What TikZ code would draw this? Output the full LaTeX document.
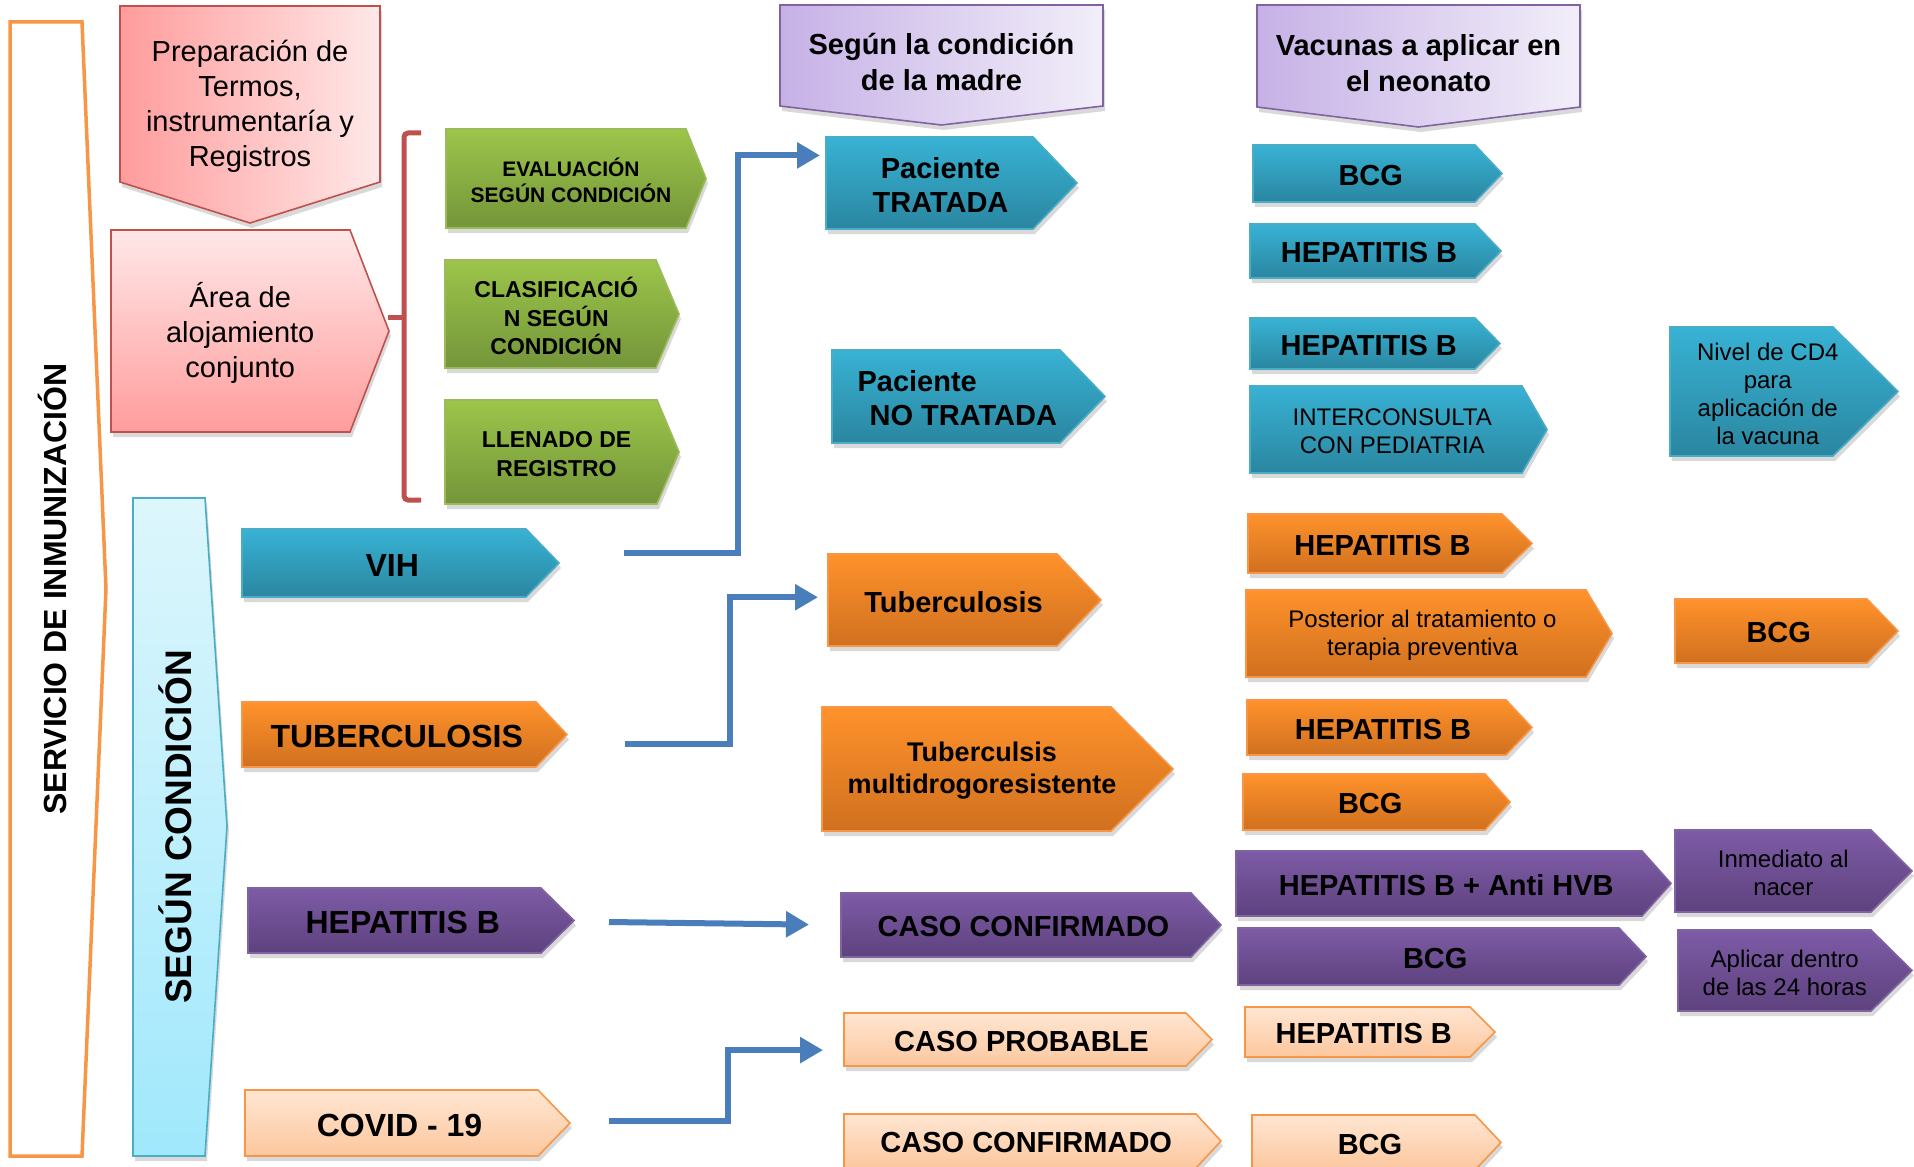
\documentclass[tikz,border=0pt]{standalone}
\usepackage{fontspec}
\setmainfont{Liberation Sans}
\usetikzlibrary{shadows,arrows.meta,calc}
\pgfdeclarelayer{background}
\pgfsetlayers{background,main}
\definecolor{bTop}{HTML}{38B2D4}
\definecolor{bBot}{HTML}{2A86A0}
\definecolor{bLine}{HTML}{4BACC6}
\definecolor{oTop}{HTML}{FF922B}
\definecolor{oBot}{HTML}{D0701F}
\definecolor{oLine}{HTML}{F79646}
\definecolor{pTop}{HTML}{7D5BA6}
\definecolor{pBot}{HTML}{5E427E}
\definecolor{pLine}{HTML}{8064A2}
\definecolor{kTop}{HTML}{FFE6D2}
\definecolor{kBot}{HTML}{FCC79E}
\definecolor{gTop}{HTML}{9CC54A}
\definecolor{gBot}{HTML}{74953A}
\definecolor{gLine}{HTML}{9BBB59}
\definecolor{rLine}{HTML}{C0504D}
\definecolor{rDark}{HTML}{FF9C9C}
\definecolor{rLight}{HTML}{FFE8E8}
\definecolor{hDark}{HTML}{C6B1E6}
\definecolor{hLight}{HTML}{F2EEF9}
\definecolor{cTop}{HTML}{DDF6FC}
\definecolor{cBot}{HTML}{A0E8FC}
\definecolor{connBlue}{HTML}{4A7EBB}
\tikzset{
  shd/.style={drop shadow={opacity=0.3,shadow xshift=1pt,shadow yshift=-2.5pt}},
  blueS/.style={shd,top color=bTop,bottom color=bBot,draw=bLine,line width=0.8pt},
  orangeS/.style={shd,top color=oTop,bottom color=oBot,draw=oLine,line width=0.8pt},
  purpleS/.style={shd,top color=pTop,bottom color=pBot,draw=pLine,line width=0.8pt},
  peachS/.style={shd,top color=kTop,bottom color=kBot,draw=oLine,line width=0.8pt},
  greenS/.style={shd,top color=gTop,bottom color=gBot,draw=gLine,line width=0.8pt},
  pinkH/.style={shd,left color=rDark,right color=rLight,draw=rLine,line width=0.8pt},
  pinkV/.style={shd,top color=rLight,bottom color=rDark,draw=rLine,line width=0.8pt},
  headS/.style={shd,left color=hDark,right color=hLight,draw=pLine,line width=0.8pt},
  txt/.style={inner sep=0pt,outer sep=0pt,align=center,text=black},
  fXXXIIb/.style={font=\fontsize{16}{19}\selectfont\bfseries},
  fXXIXb/.style={font=\fontsize{14.5}{17}\selectfont\bfseries},
  fhead/.style={font=\fontsize{14.5}{18}\selectfont\bfseries},
  fpink/.style={font=\fontsize{14.5}{17.5}\selectfont},
  fXXVIIb/.style={font=\fontsize{13.5}{16}\selectfont\bfseries},
  fXXIVr/.style={font=\fontsize{12}{14}\selectfont},
  fXXIb/.style={font=\fontsize{10.5}{13}\selectfont\bfseries},
  fXXIIIb/.style={font=\fontsize{11.5}{14.25}\selectfont\bfseries},
  fbig/.style={font=\fontsize{18.5}{22}\selectfont\bfseries},
  conn/.style={draw=connBlue,line width=3pt,-{Triangle[length=11.5pt,width=12.5pt]}},
  brk/.style={draw=rLine,line width=2.5pt,rounded corners=2pt}
}
% right-pointing pentagon: style, node options, name, left, top, right, tip, bottom, text
% (text sits 2px lower than the centre of its box)
\newcommand{\rbox}[9]{%
  \node[txt,#2,minimum width={((#6+#7)/2-#4)/2},minimum height={(#8-#5)/2}] (#3) at ({(#4+(#6+#7)/2)/2},{(#5+#8)/2+2}) {#9};
  \begin{pgfonlayer}{background}
  \path[#1] ([yshift=1pt]#3.north west) -- ([xshift={-(#7-#6)/4},yshift=1pt]#3.north east) -- ([xshift={(#7-#6)/4},yshift=1pt]#3.east) -- ([xshift={-(#7-#6)/4},yshift=1pt]#3.south east) -- ([yshift=1pt]#3.south west) -- cycle;
  \end{pgfonlayer}}
% down-pointing pentagon: style, node options, name, left, top, right, side bottom, tip y, text
\newcommand{\dbox}[9]{%
  \node[txt,#2,minimum width={(#6-#4)/2},minimum height={((#7+#8)/2-#5)/2}] (#3) at ({(#4+#6)/2},{(#5+(#7+#8)/2)/2+2}) {#9};
  \begin{pgfonlayer}{background}
  \path[#1] ([yshift=1pt]#3.north west) -- ([yshift=1pt]#3.north east) -- ([yshift={(#8-#7)/4+1}]#3.south east) -- ([yshift={-(#8-#7)/4+1}]#3.south) -- ([yshift={(#8-#7)/4+1}]#3.south west) -- cycle;
  \end{pgfonlayer}}
\begin{document}
\begin{tikzpicture}[x=0.5pt,y=-0.5pt]
\useasboundingbox (0,0) rectangle (1914,1166);
% big frames
\path[draw=oLine,line width=1.75pt,fill=white] (10,22) -- (82,22) -- (106,589) -- (82,1156) -- (10,1156) -- cycle;
\node[txt,fXXXIIb,rotate=90] (serv) at (52,589) {SERVICIO DE INMUNIZACIÓN};
\path[shd,top color=cTop,bottom color=cBot,draw=bLine,line width=0.8pt] (133,498) -- (205,498) -- (227,826) -- (205,1156) -- (133,1156) -- cycle;
\node[txt,fbig,rotate=90] (segun) at (175,827) {SEGÚN CONDICIÓN};
% pink
\dbox{pinkH}{fpink}{prep}{120}{6}{380}{182}{223}{Preparación de\\Termos,\\instrumentaría y\\Registros}
\rbox{pinkV}{fpink}{area}{111}{230}{350}{389}{432}{Área de\\alojamiento\\conjunto}
% bracket
\draw[brk] (421,133) -- (404,133) -- (404,500) -- (421,500);
\draw[brk] (404,317) -- (388,317);
% green
\rbox{greenS}{fXXIb}{eval}{446}{129}{686}{706}{228}{EVALUACIÓN\\SEGÚN CONDICIÓN}
\rbox{greenS}{fXXIIIb}{clas}{445}{260}{656}{679}{368}{CLASIFICACIÓ\\N SEGÚN\\CONDICIÓN}
\rbox{greenS}{fXXIIIb}{llen}{445}{400}{657}{679}{504}{LLENADO DE\\REGISTRO}
% headers
\dbox{headS}{fhead}{hmadre}{780}{5}{1103}{106}{125}{Según la condición\\de la madre}
\dbox{headS}{fhead}{hvac}{1257}{5}{1580}{107}{127}{Vacunas a aplicar en\\el neonato}
% column 1
\rbox{blueS}{fXXXIIb}{vih}{242}{529}{526}{559}{597}{VIH}
\rbox{orangeS}{fXXXIIb}{tbc}{242}{702}{536}{567}{767}{TUBERCULOSIS}
\rbox{purpleS}{fXXXIIb}{hepb}{248}{888}{541}{574}{953}{HEPATITIS B}
\rbox{peachS}{fXXXIIb}{covid}{245}{1090}{538}{570}{1156}{COVID - 19}
% column 2
\rbox{blueS}{fXXIXb}{trat}{826}{137}{1033}{1077}{229}{Paciente\\TRATADA}
\rbox{blueS}{fXXIXb,align=left}{notrat}{832}{350}{1060}{1105}{443}{Paciente\\\hspace*{6pt}NO TRATADA}
\rbox{orangeS}{fXXIXb}{tuber}{828}{554}{1057}{1101}{646}{Tuberculosis}
\rbox{orangeS}{fXXVIIb}{tbmdr}{822}{707}{1111}{1173}{831}{Tuberculsis\\multidrogoresistente}
\rbox{purpleS}{fXXIXb}{casoc}{841}{893}{1191}{1221}{957}{CASO CONFIRMADO}
\rbox{peachS}{fXXIXb}{casop}{844}{1013}{1186}{1212}{1066}{CASO PROBABLE}
\rbox{peachS}{fXXIXb}{casocc}{844}{1114}{1196}{1221}{1168}{CASO CONFIRMADO}
% column 3
\rbox{blueS}{fXXIXb}{bcgA}{1253}{145}{1475}{1502}{202}{BCG}
\rbox{blueS}{fXXIXb}{hbA}{1250}{224}{1475}{1501}{278}{HEPATITIS B}
\rbox{blueS}{fXXIXb}{hbB}{1250}{318}{1475}{1500}{369}{HEPATITIS B}
\rbox{blueS}{fXXIVr}{inter}{1250}{386}{1522}{1547}{473}{INTERCONSULTA\\CON PEDIATRIA}
\rbox{orangeS}{fXXIXb}{hbC}{1248}{514}{1502}{1532}{573}{HEPATITIS B}
\rbox{orangeS}{fXXIVr}{post}{1246}{590}{1586}{1612}{677}{Posterior al tratamiento o\\terapia preventiva}
\rbox{orangeS}{fXXIXb}{hbD}{1247}{700}{1506}{1532}{755}{HEPATITIS B}
\rbox{orangeS}{fXXIXb}{bcgB}{1243}{774}{1485}{1510}{830}{BCG}
\rbox{purpleS}{fXXIXb}{hbanti}{1236}{851}{1642}{1671}{916}{HEPATITIS B + Anti HVB}
\rbox{purpleS}{fXXIXb}{bcgC}{1238}{928}{1619}{1646}{985}{BCG}
\rbox{peachS}{fXXIXb}{hbE}{1245}{1007}{1470}{1495}{1057}{HEPATITIS B}
\rbox{peachS}{fXXIXb}{bcgD}{1252}{1115}{1475}{1501}{1170}{BCG}
% column 4
\rbox{blueS}{fXXIVr}{cd}{1670}{327}{1833}{1898}{456}{Nivel de CD4\\para\\aplicación de\\la vacuna}
\rbox{orangeS}{fXXIXb}{bcgE}{1675}{599}{1867}{1898}{663}{BCG}
\rbox{purpleS}{fXXIVr}{inmed}{1675}{830}{1871}{1912}{912}{Inmediato al\\nacer}
\rbox{purpleS}{fXXIVr}{aplic}{1678}{930}{1871}{1912}{1011}{Aplicar dentro\\de las 24 horas}
% connectors
\coordinate (vihout) at (624,553);
\coordinate (tbcout) at (625,744);
\coordinate (hbout) at (609,922);
\coordinate (covout) at (609,1121);
\draw[conn,shorten >=3pt] (vihout) -- ++(114,0) |- ($(trat.north west)!0.2!(trat.south west)+(0,1pt)$);
\draw[conn,shorten >=5pt] (tbcout) -- ++(105,0) |- ($(tuber.north west)!0.47!(tuber.south west)+(0,1pt)$);
\draw[conn,shorten >=16pt] (hbout) -- ($(casoc.west)+(0,1pt)$);
\draw[conn,shorten >=10.5pt] (covout) -- ++(119,0) |- ($(casop.north west)!0.7!(casop.south west)+(0,1pt)$);
\end{tikzpicture}
\end{document}
